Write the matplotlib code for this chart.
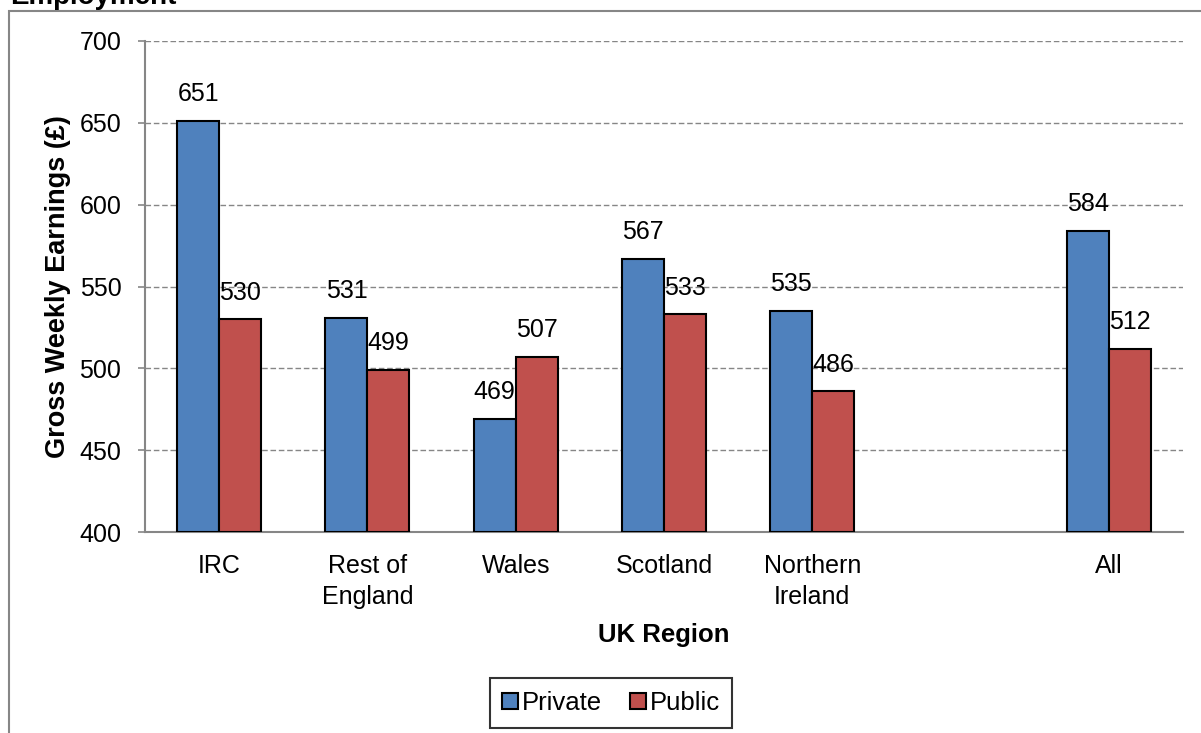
import matplotlib.pyplot as plt
import matplotlib.patches as mpatches
import numpy as np

categories = ["IRC", "Rest of\nEngland", "Wales", "Scotland", "Northern\nIreland", "", "All"]
private = [651, 531, 469, 567, 535, None, 584]
public = [530, 499, 507, 533, 486, None, 512]
yticks = [400, 450, 500, 550, 600, 650, 700]

BLUE = "#4F81BD"
RED = "#C0504D"
FS = 18

plt.rcParams["font.family"] = ["Liberation Sans", "DejaVu Sans"]

fig = plt.figure(figsize=(12.01, 7.33), dpi=100)

# outer chart frame (runs past right/bottom edge of the figure)
frame = mpatches.Rectangle((9 / 1201, -0.05), 1.05, 1 - 11 / 733 + 0.05,
                           transform=fig.transFigure, fill=False,
                           edgecolor="#868686", linewidth=1.5, clip_on=False)
fig.add_artist(frame)

fig.text(10 / 1201, 1 - 4 / 733, "Employment", fontsize=20, fontweight="bold",
         ha="left", va="baseline")

ax = fig.add_axes([145 / 1201, 1 - 532 / 733, (1183 - 145) / 1201, (532 - 41) / 733])

x = np.arange(len(categories))
w = 0.283
for i in range(len(categories)):
    if private[i] is None:
        continue
    ax.bar(x[i] - w / 2, private[i] - 400, width=w, bottom=400, color=BLUE,
           edgecolor="black", linewidth=1.5, zorder=3)
    ax.bar(x[i] + w / 2, public[i] - 400, width=w, bottom=400, color=RED,
           edgecolor="black", linewidth=1.5, zorder=3)
    ax.text(x[i] - w / 2, private[i] + 9, f"{private[i]}", ha="center", va="bottom",
            fontsize=FS, zorder=4)
    ax.text(x[i] + w / 2, public[i] + 9, f"{public[i]}", ha="center", va="bottom",
            fontsize=FS, zorder=4)

ax.set_xlim(-0.5, len(categories) - 0.5)
ax.set_ylim(400, 700)
ax.set_yticks(yticks)
ax.set_yticklabels([str(t) for t in yticks], fontsize=FS)
ax.set_xticks(x)
ax.set_xticklabels(categories, fontsize=FS, linespacing=1.35)
ax.tick_params(axis="x", length=0, pad=16)
ax.tick_params(axis="y", length=5, width=1.2, color="#868686", pad=12)

ax.yaxis.grid(True, linestyle=(0, (4, 2)), color="#868686", linewidth=1.0, zorder=0)
ax.set_axisbelow(True)
for s in ["top", "right"]:
    ax.spines[s].set_visible(False)
ax.spines["left"].set_color("#868686")
ax.spines["left"].set_linewidth(1.5)
ax.spines["bottom"].set_color("#868686")
ax.spines["bottom"].set_linewidth(1.5)

ax.set_ylabel("Gross Weekly Earnings (£)", fontsize=19.5, fontweight="bold", labelpad=6)
ax.set_xlabel("UK Region", fontsize=18.5, fontweight="bold", labelpad=10)

handles = [mpatches.Patch(facecolor=BLUE, edgecolor="black", linewidth=1.5, label="Private"),
           mpatches.Patch(facecolor=RED, edgecolor="black", linewidth=1.5, label="Public")]
leg = fig.legend(handles=handles, loc="center", bbox_to_anchor=(611 / 1201, 1 - 703 / 733),
                 ncol=2, fontsize=18.5, frameon=True, fancybox=False,
                 handlelength=0.6, handleheight=0.6, handletextpad=0.15,
                 columnspacing=1.1, borderpad=0.5, borderaxespad=0)
leg.get_frame().set_edgecolor("black")
leg.get_frame().set_linewidth(1.5)

fig.savefig("out.png", dpi=100)
